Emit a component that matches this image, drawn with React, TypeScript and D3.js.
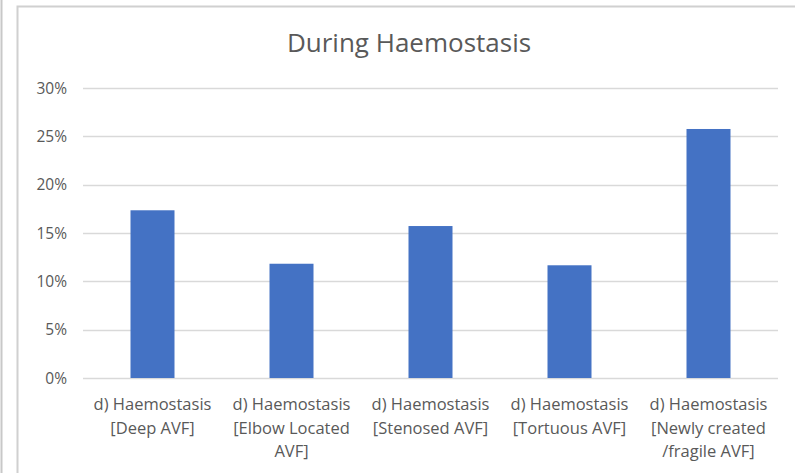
import React from "react";
import * as d3 from "d3";

const categories: string[][] = [
  ["d) Haemostasis", "[Deep AVF]"],
  ["d) Haemostasis", "[Elbow Located", "AVF]"],
  ["d) Haemostasis", "[Stenosed AVF]"],
  ["d) Haemostasis", "[Tortuous AVF]"],
  ["d) Haemostasis", "[Newly created", "/fragile AVF]"],
];
const values: number[] = [0.1735, 0.1182, 0.1572, 0.1166, 0.2576];
const yTicks: number[] = [0, 0.05, 0.1, 0.15, 0.2, 0.25, 0.3];
const title = "During Haemostasis";

const W = 795;
const H = 473;
const FONT = "'Open Sans', Lato, sans-serif";

export default function App() {
  const plotLeft = 83;
  const plotRight = 778;
  const y = d3.scaleLinear().domain([0, 0.3]).range([378, 88]);
  const x = d3
    .scaleBand<number>()
    .domain(d3.range(categories.length))
    .range([plotLeft, plotRight])
    .paddingInner(0)
    .paddingOuter(0);
  const barW = 44;
  const fmt = d3.format(".0%");

  return (
    <svg
      width={W}
      height={H}
      style={{ position: "absolute", left: 0, top: 0, background: "#fff" }}
      fontFamily={FONT}
    >
      <rect x={0} y={0} width={W} height={H} fill="#fff" />
      <line x1={1.5} x2={1.5} y1={0} y2={H} stroke="#c8c8c8" strokeWidth={2} />
      <rect x={17.5} y={6.5} width={W} height={H} fill="#fff" stroke="#d0d0d0" strokeWidth={2} />
      <text x={409} y={52} textAnchor="middle" fontSize={26} fill="#595959">
        {title}
      </text>
      {yTicks.map((t) => (
        <g key={t}>
          <line
            x1={plotLeft}
            x2={plotRight}
            y1={Math.round(y(t)) + 0.5}
            y2={Math.round(y(t)) + 0.5}
            stroke="#d9d9d9"
            strokeWidth={1.3}
          />
          <text
            x={67}
            y={y(t) + 5.5}
            textAnchor="end"
            fontSize={15.5}
            fill="#595959"
          >
            {fmt(t)}
          </text>
        </g>
      ))}
      {values.map((v, i) => {
        const cx = (x(i) as number) + x.bandwidth() / 2;
        return (
          <rect
            key={i}
            x={cx - barW / 2}
            y={y(v)}
            width={barW}
            height={y(0) - y(v)}
            fill="#4472C4"
          />
        );
      })}
      {categories.map((lines, i) => {
        const cx = (x(i) as number) + x.bandwidth() / 2;
        return (
          <text key={i} textAnchor="middle" fontSize={16.5} fill="#595959">
            {lines.map((l, j) => (
              <tspan key={j} x={cx} y={410 + j * 23.5}>
                {l}
              </tspan>
            ))}
          </text>
        );
      })}
    </svg>
  );
}
